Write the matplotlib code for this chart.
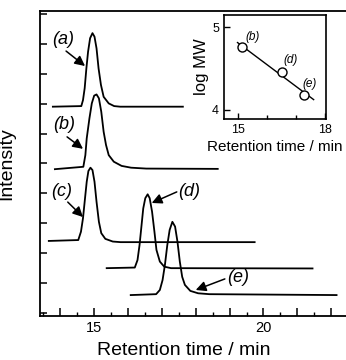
import matplotlib
matplotlib.use("Agg")
import matplotlib.pyplot as plt
import numpy as np
from matplotlib.ticker import MultipleLocator, FuncFormatter

plt.rcParams['font.family'] = ['Liberation Sans', 'DejaVu Sans']

# chromatograms (time / min, intensity offset units)
t_a = [13.78, 14.62, 14.67, 14.72, 14.77, 14.82, 14.88, 14.95, 15.01, 15.07, 15.13, 15.20, 15.28, 15.43, 15.59, 15.77, 17.62]
i_a = [6.90, 6.92, 7.12, 7.52, 8.18, 8.74, 9.19, 9.36, 9.24, 8.85, 8.18, 7.63, 7.23, 7.01, 6.92, 6.90, 6.90]

t_b = [13.84, 14.68, 14.74, 14.78, 14.86, 14.93, 15.00, 15.07, 15.14, 15.21, 15.28, 15.35, 15.43, 15.58, 15.81, 16.09, 16.54, 18.65]
i_b = [4.81, 4.89, 5.28, 5.84, 6.51, 7.01, 7.27, 7.31, 7.18, 6.73, 6.06, 5.62, 5.28, 5.06, 4.92, 4.86, 4.83, 4.82]

t_c = [13.66, 14.53, 14.61, 14.67, 14.73, 14.78, 14.83, 14.89, 14.95, 15.01, 15.07, 15.14, 15.21, 15.33, 15.55, 15.78, 19.74]
i_c = [2.41, 2.44, 2.72, 3.17, 3.84, 4.39, 4.75, 4.86, 4.78, 4.39, 3.72, 3.05, 2.67, 2.48, 2.39, 2.37, 2.37]

t_d = [15.37, 16.20, 16.28, 16.34, 16.40, 16.45, 16.51, 16.58, 16.64, 16.71, 16.78, 16.84, 16.94, 17.07, 17.27, 21.45]
i_d = [1.50, 1.52, 1.77, 2.27, 2.94, 3.50, 3.84, 3.97, 3.84, 3.39, 2.72, 2.11, 1.72, 1.55, 1.50, 1.49]

t_e = [16.08, 16.83, 16.94, 17.02, 17.09, 17.16, 17.23, 17.31, 17.39, 17.46, 17.53, 17.60, 17.68, 17.84, 18.07, 18.40, 22.16]
i_e = [0.60, 0.63, 0.77, 1.10, 1.61, 2.27, 2.78, 3.05, 2.89, 2.39, 1.72, 1.21, 0.94, 0.74, 0.66, 0.63, 0.60]

# labels: text position, arrow tail, arrow tip
labels = ['(a)', '(b)', '(c)', '(d)', '(e)']
label_pos = [(14.08, 9.16), (14.11, 6.32), (14.05, 4.08), (17.82, 4.05), (19.24, 1.20)]
arrow_tail = [(14.17, 8.76), (14.20, 5.89), (14.22, 3.71), (17.44, 4.05), (18.86, 1.14)]
arrow_tip = [(14.73, 8.26), (14.67, 5.49), (14.67, 3.21), (16.70, 3.68), (18.00, 0.77)]

# inset: log MW vs retention time
ins_t = [15.12, 16.52, 17.29]
ins_mw = [4.76, 4.46, 4.18]
ins_lab = ['(b)', '(d)', '(e)']
ins_lab_pos = [(15.49, 4.88), (16.81, 4.60), (17.48, 4.32)]
fit_range = [14.97, 17.62]

fig = plt.figure(figsize=(3.46, 3.6), dpi=100)
ax = fig.add_axes([40 / 346, 44 / 360, 325 / 346, 305 / 360])

for t, i in [(t_a, i_a), (t_b, i_b), (t_c, i_c), (t_d, i_d), (t_e, i_e)]:
    ax.plot(t, i, color='k', lw=1.3, solid_joinstyle='round')

for lab, p, tail, tip in zip(labels, label_pos, arrow_tail, arrow_tip):
    ax.text(p[0], p[1], lab, fontsize=13, style='italic', ha='center', va='center')
    ax.annotate('', xy=tip, xytext=tail,
                arrowprops=dict(arrowstyle='-|>,head_length=0.6,head_width=0.3',
                                color='k', lw=1.1, shrinkA=0, shrinkB=0))

ax.set_xlim(13.4, 23.0)
ax.set_ylim(-0.1, 10.1)
ax.xaxis.set_major_locator(MultipleLocator(1))
ax.xaxis.set_minor_locator(MultipleLocator(0.5))
ax.xaxis.set_major_formatter(FuncFormatter(lambda v, p: f'{v:.0f}' if abs(v / 5 - round(v / 5)) < 1e-6 else ''))
ax.yaxis.set_major_locator(MultipleLocator(1))
ax.set_yticklabels([])
ax.tick_params(direction='in', width=1.1, labelsize=10.5)
ax.tick_params(axis='x', which='major', length=6)
ax.tick_params(axis='x', which='minor', length=3, width=1.0, direction='in')
ax.tick_params(axis='y', which='major', length=5)
for s in ax.spines.values():
    s.set_linewidth(1.3)
ax.set_xlabel('Retention time / min', fontsize=14)
ax.set_ylabel('Intensity', fontsize=14)
ax.xaxis.set_label_coords(0.443, -0.085)
ax.yaxis.set_label_coords(-0.075, 0.5)

# inset
axi = fig.add_axes([224 / 346, (360 - 119) / 360, 102 / 346, 104 / 360])
coef = np.polyfit(ins_t, ins_mw, 1)
axi.plot(fit_range, np.polyval(coef, fit_range), color='k', lw=1.0)
axi.plot(ins_t, ins_mw, 'o', mfc='white', mec='k', ms=6.5, mew=1.0)
for lab, p in zip(ins_lab, ins_lab_pos):
    axi.text(p[0], p[1], lab, fontsize=8.5, style='italic', ha='center', va='center')
axi.set_xlim(14.5, 18.05)
axi.set_ylim(3.89, 5.15)
axi.xaxis.set_major_locator(MultipleLocator(3))
axi.xaxis.set_minor_locator(MultipleLocator(1))
axi.yaxis.set_major_locator(MultipleLocator(1))
axi.tick_params(direction='in', which='both', labelsize=9, width=1.0)
axi.tick_params(which='major', length=4)
axi.tick_params(which='minor', length=3)
for s in axi.spines.values():
    s.set_linewidth(1.2)
axi.set_xlabel('Retention time / min', fontsize=11, labelpad=3)
axi.set_ylabel('log MW', fontsize=12, labelpad=2)

fig.savefig('out.png', dpi=100)
